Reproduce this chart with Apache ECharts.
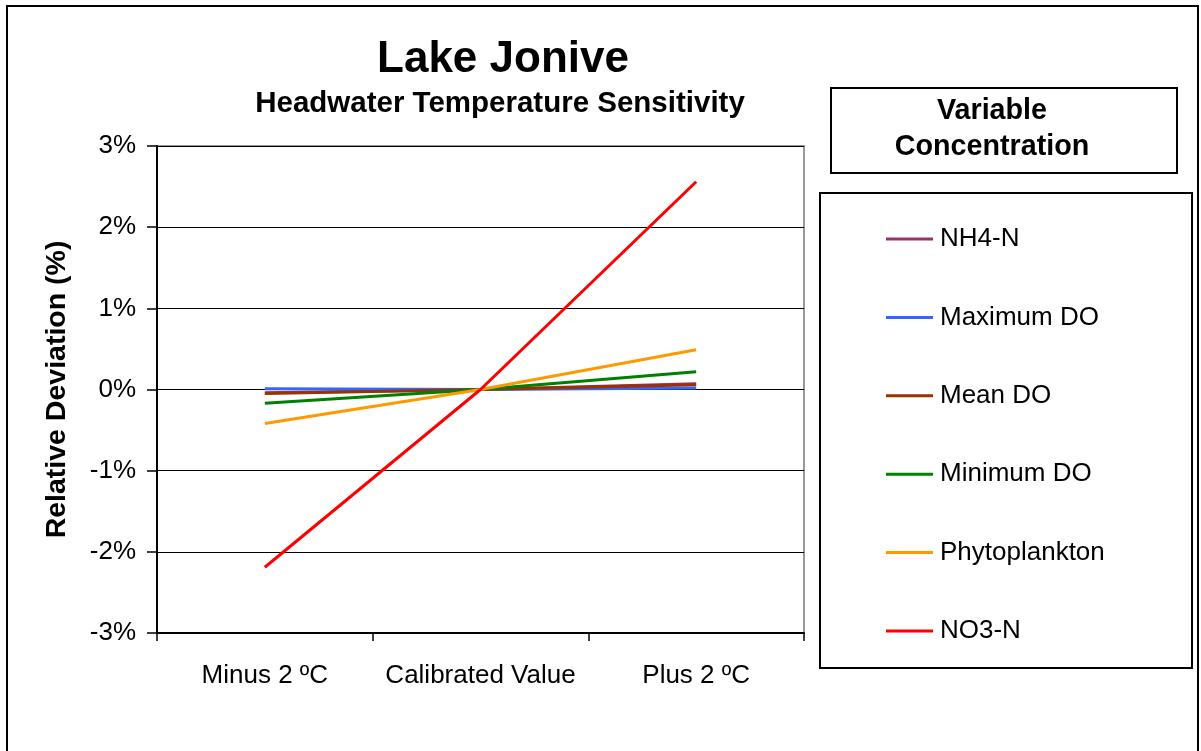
<!DOCTYPE html>
<html>
<head>
<meta charset="utf-8">
<script src="https://cdn.jsdelivr.net/npm/echarts@6/dist/echarts.min.js"></script>
<style>
html,body{margin:0;padding:0;background:#fff;}
#chart{width:1201px;height:751px;}
</style>
</head>
<body>
<div id="chart"></div>
<script>
const categories = ['Minus 2 ºC', 'Calibrated Value', 'Plus 2 ºC'];
const yTicks = [-3, -2, -1, 0, 1, 2, 3];
const seriesNames = ['NH4-N', 'Maximum DO', 'Mean DO', 'Minimum DO', 'Phytoplankton', 'NO3-N'];
const nh4n = [-0.04, 0, 0.07];
const maxDO = [0.01, 0, 0.02];
const meanDO = [-0.05, 0, 0.06];
const minDO = [-0.17, 0, 0.22];
const phyto = [-0.42, 0, 0.49];
const no3n = [-2.19, 0, 2.56];
const seriesData = [nh4n, maxDO, meanDO, minDO, phyto, no3n];
const colors = ['#993366', '#3366FF', '#993300', '#008000', '#FF9900', '#FF0000'];

const FONT = '"Liberation Sans", Arial, sans-serif';
const chart = echarts.init(document.getElementById('chart'));

const option = {
  animation: false,
  backgroundColor: '#fff',
  textStyle: { fontFamily: FONT },
  title: [
    { text: 'Lake Jonive', left: 503, top: 38, padding: 0, textAlign: 'center',
      textStyle: { fontFamily: FONT, fontSize: 44, fontWeight: 'bold', color: '#000' } },
    { text: 'Headwater Temperature Sensitivity', left: 500, top: 89, padding: 0, textAlign: 'center',
      textStyle: { fontFamily: FONT, fontSize: 29.5, fontWeight: 'bold', color: '#000' } }
  ],
  grid: { left: 157, top: 146, width: 647, height: 487, show: true, borderColor: '#999', borderWidth: 2, backgroundColor: '#fff' },
  legend: {
    orient: 'vertical', left: 886, top: 226, padding: 0,
    itemWidth: 47, itemHeight: 3, itemGap: 52.4, icon: 'rect',
    data: seriesNames,
    textStyle: { fontFamily: FONT, fontSize: 26, color: '#000', lineHeight: 26, padding: [0, 0, 0, 2] }
  },
  xAxis: {
    type: 'category', data: categories, boundaryGap: true,
    axisLine: { onZero: false, lineStyle: { color: '#000', width: 2 } },
    axisTick: { show: true, interval: 0, length: 8, lineStyle: { color: '#000', width: 1.5 } },
    axisLabel: { interval: 0, fontFamily: FONT, fontSize: 26, color: '#000', margin: 30 },
    splitLine: { show: false }
  },
  yAxis: {
    type: 'value', min: -3, max: 3, interval: 1,
    name: 'Relative Deviation (%)', nameLocation: 'middle', nameGap: 85, nameRotate: 90,
    nameTextStyle: { fontFamily: FONT, fontSize: 28.5, fontWeight: 'bold', color: '#000' },
    axisLine: { show: true, lineStyle: { color: '#000', width: 2 } },
    axisTick: { show: true, length: 10, lineStyle: { color: '#000', width: 1.5 } },
    axisLabel: { fontFamily: FONT, fontSize: 26, color: '#000', margin: 21,
      formatter: v => yTicks.includes(v) ? v + '%' : '' },
    splitLine: { show: true, lineStyle: { color: '#000', width: 1.2 } }
  },
  graphic: [
    { type: 'rect', shape: { x: 7, y: 6, width: 1191, height: 760 }, style: { fill: null, stroke: '#000', lineWidth: 2 }, z: -10 },
    { type: 'rect', shape: { x: 831, y: 88, width: 346, height: 85 }, style: { fill: '#fff', stroke: '#000', lineWidth: 2 } },
    { type: 'text', x: 992, y: 111, style: { text: 'Variable', font: 'bold 28.7px ' + FONT, fill: '#000', textAlign: 'center', textVerticalAlign: 'middle' } },
    { type: 'text', x: 992, y: 147, style: { text: 'Concentration', font: 'bold 28.7px ' + FONT, fill: '#000', textAlign: 'center', textVerticalAlign: 'middle' } },
    { type: 'rect', shape: { x: 820, y: 193, width: 372, height: 475 }, style: { fill: '#fff', stroke: '#000', lineWidth: 2 }, z: -5 }
  ],
  series: seriesNames.map((n, i) => ({
    name: n, type: 'line', data: seriesData[i],
    symbol: 'none', color: colors[i],
    lineStyle: { color: colors[i], width: 3 }
  }))
};
chart.setOption(option);
</script>
</body>
</html>
